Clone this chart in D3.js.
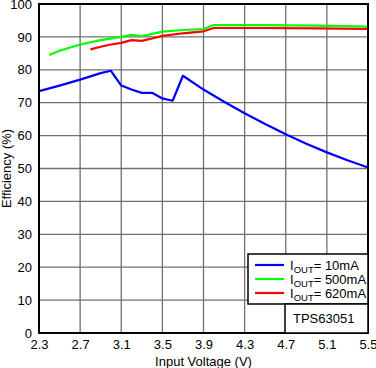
<!DOCTYPE html>
<html><head><meta charset="utf-8">
<script src="https://cdn.jsdelivr.net/npm/d3@7"></script>
<style>body{margin:0;background:#fff}svg{display:block;font-family:"Liberation Sans",Arial,sans-serif}</style>
</head><body>
<svg id="c" width="376" height="368"></svg>
<script>
const xTicks = [2.3, 2.7, 3.1, 3.5, 3.9, 4.3, 4.7, 5.1, 5.5];
const yTicks = [0, 10, 20, 30, 40, 50, 60, 70, 80, 90, 100];
const v10 = [2.3, 2.5, 2.7, 2.9, 3.0, 3.1, 3.2, 3.3, 3.4, 3.5, 3.6, 3.7, 3.9, 4.1, 4.3, 4.5, 4.7, 4.9, 5.1, 5.3, 5.5];
const e10 = [73.5, 75.2, 77.0, 79.0, 79.7, 75.2, 74.0, 73.0, 73.0, 71.3, 70.6, 78.2, 74.0, 70.3, 66.8, 63.5, 60.4, 57.5, 54.9, 52.5, 50.3];
const v500 = [2.4, 2.5, 2.7, 2.9, 3.1, 3.2, 3.3, 3.4, 3.5, 3.7, 3.9, 4.0, 4.5, 5.0, 5.5];
const e500 = [84.5, 85.8, 87.7, 89.0, 90.0, 90.6, 90.2, 90.9, 91.6, 92.1, 92.4, 93.6, 93.6, 93.4, 93.1];
const v620 = [2.8, 2.9, 3.0, 3.1, 3.2, 3.3, 3.4, 3.5, 3.7, 3.9, 4.0, 4.5, 5.0, 5.5];
const e620 = [86.2, 87.0, 87.7, 88.2, 89.0, 88.8, 89.5, 90.3, 91.1, 91.7, 92.7, 92.7, 92.6, 92.4];
const seriesNames = ["10mA", "500mA", "620mA"];
const colors = ["#0000ff", "#00ff00", "#ff0000"];

const svg = d3.select("#c");
const L = 39, R = 368, T = 4, B = 333;
const x = d3.scaleLinear().domain([2.3, 5.5]).range([L, R]);
const y = d3.scaleLinear().domain([0, 100]).range([B, T]);

// grid
svg.append("g").selectAll("line").data(xTicks).join("line")
  .attr("x1", d => x(d)).attr("x2", d => x(d)).attr("y1", T).attr("y2", B)
  .attr("stroke", "#707070").attr("stroke-width", 1.3);
svg.append("g").selectAll("line").data(yTicks).join("line")
  .attr("x1", L).attr("x2", R).attr("y1", d => y(d)).attr("y2", d => y(d))
  .attr("stroke", "#707070").attr("stroke-width", 1.3);

// axes labels via d3 axes
const xAxis = svg.append("g").attr("transform", `translate(0,${B})`)
  .call(d3.axisBottom(x).tickValues(xTicks).tickSize(0).tickPadding(7).tickFormat(d3.format(".1f")));
xAxis.select(".domain").remove();
xAxis.selectAll("text").attr("font-size", 13).attr("fill", "#000").attr("font-family", "Liberation Sans, Arial, sans-serif");
const yAxis = svg.append("g").attr("transform", `translate(${L},0)`)
  .call(d3.axisLeft(y).tickValues(yTicks).tickSize(0).tickPadding(7));
yAxis.select(".domain").remove();
yAxis.selectAll("text").attr("font-size", 13).attr("fill", "#000").attr("font-family", "Liberation Sans, Arial, sans-serif");

// series
const sets = [[v10, e10], [v500, e500], [v620, e620]];
const line = d3.line().x(d => x(d[0])).y(d => y(d[1]));
sets.forEach((s, i) => {
  const pts = s[0].map((v, j) => [v, s[1][j]]);
  svg.append("path").datum(pts).attr("d", line).attr("fill", "none")
    .attr("stroke", colors[i]).attr("stroke-width", 2.2).attr("stroke-linejoin", "round");
});

// plot border
svg.append("rect").attr("x", L).attr("y", T).attr("width", R - L).attr("height", B - T)
  .attr("fill", "none").attr("stroke", "#000").attr("stroke-width", 2);

// legend
const lg = svg.append("g");
lg.append("rect").attr("x", 248).attr("y", 254).attr("width", R - 248).attr("height", 50)
  .attr("fill", "#fff").attr("stroke", "#000").attr("stroke-width", 1.5);
seriesNames.forEach((n, i) => {
  const yy = 265 + i * 14;
  lg.append("line").attr("x1", 255).attr("x2", 284).attr("y1", yy).attr("y2", yy)
    .attr("stroke", colors[i]).attr("stroke-width", 2.2);
  const t = lg.append("text").attr("x", 290).attr("y", yy + 5).attr("font-size", 13).attr("fill", "#000");
  t.append("tspan").text("I");
  t.append("tspan").attr("font-size", 9.5).attr("dy", 3).text("OUT");
  t.append("tspan").attr("dy", -3).text("= " + n);
});
lg.append("rect").attr("x", 285).attr("y", 304).attr("width", R - 285).attr("height", B - 304)
  .attr("fill", "#fff").attr("stroke", "#000").attr("stroke-width", 1.5);
lg.append("text").attr("x", 293).attr("y", 323).attr("font-size", 13).attr("fill", "#000").text("TPS63051");

// axis titles
svg.append("text").attr("x", (L + R) / 2).attr("y", 366).attr("text-anchor", "middle")
  .attr("font-size", 13).attr("fill", "#000").text("Input Voltage (V)");
svg.append("text").attr("transform", `translate(11,${(T + B) / 2}) rotate(-90)`).attr("text-anchor", "middle")
  .attr("font-size", 13).attr("fill", "#000").text("Efficiency (%)");
</script>
</body></html>
